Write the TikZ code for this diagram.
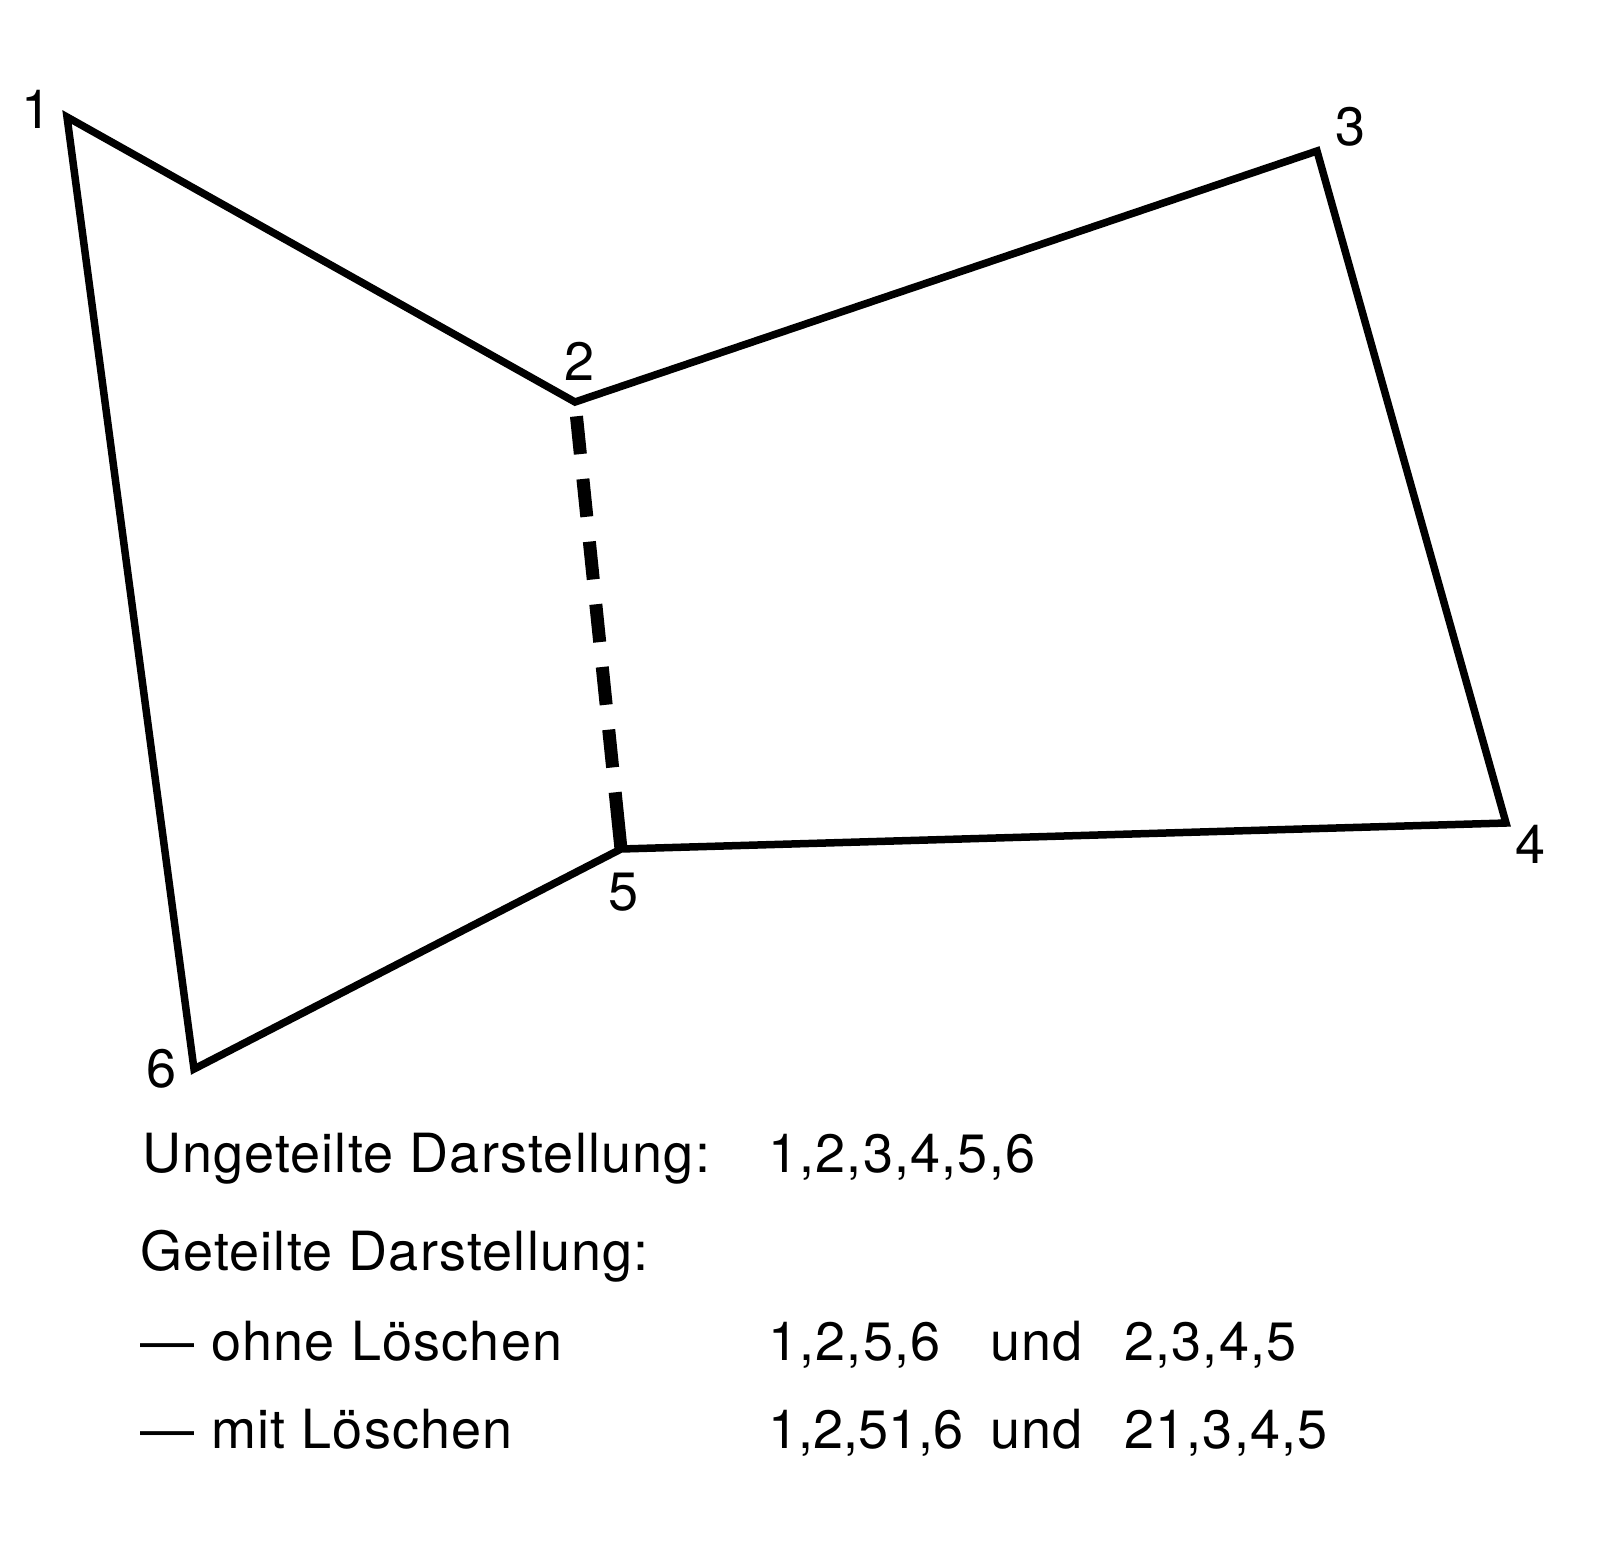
\documentclass[tikz,border=0pt]{standalone}
\usepackage{fontspec}
\setmainfont{TeX Gyre Heros}
\newfontfamily\spacedfont[LetterSpace=2.2]{TeX Gyre Heros}
\begin{document}
\begin{tikzpicture}[x=1pt,y=-1pt,
  edge/.style={line width=7.5pt,line join=miter},
  split/.style={line width=13pt,dash pattern=on 57pt off 25pt on 38pt off 25pt on 38pt off 25pt on 38pt off 25pt on 38pt off 25pt on 38pt off 25pt on 38pt off 60pt},
  lab/.style={inner sep=0pt,anchor=base,font=\fontsize{54}{60}\selectfont},
  txt/.style={inner sep=0pt,anchor=base west,font=\spacedfont\fontsize{54}{60}\selectfont},
  tighttxt/.style={inner sep=0pt,anchor=base west,font=\fontsize{54}{60}\selectfont}]
\useasboundingbox (0,0) rectangle (1619,1553);
\coordinate (p1) at (67,117);
\coordinate (p2) at (575,402);
\coordinate (p3) at (1317,151);
\coordinate (p4) at (1506,823);
\coordinate (p5) at (621,849);
\coordinate (p6) at (194,1069);
\draw[edge] (p1) -- (p2) -- (p3) -- (p4) -- (p5) -- (p6) -- cycle;
\draw[split] (p5) -- (p2);
\node[lab] (l1) at (37,128) {1};
\node[lab] (l2) at (580,380) {2};
\node[lab] (l3) at (1350,145) {3};
\node[lab] (l4) at (1530,863) {4};
\node[lab] (l5) at (624,910) {5};
\node[lab] (l6) at (162,1087) {6};
\node[txt] (t1) at (142,1172) {Ungeteilte Darstellung:};
\node[txt] (t1b) at (768,1172) {1,2,3,4,5,6};
\node[txt] (t2) at (140,1270) {Geteilte Darstellung:};
\node[txt] (d3) at (140,1360) {—};
\node[txt] (t3) at (211,1360) {ohne Löschen};
\node[txt] (t3a) at (768,1360) {1,2,5,6};
\node[txt] (t3b) at (990,1360) {und};
\node[txt] (t3c) at (1124,1360) {2,3,4,5};
\node[txt] (d4) at (140,1448) {—};
\node[txt] (t4) at (211,1448) {mit Löschen};
\node[tighttxt] (t4a) at (768,1448) {1,2,51,6};
\node[txt] (t4b) at (990,1448) {und};
\node[txt] (t4c) at (1124,1448) {21,3,4,5};
\end{tikzpicture}
\end{document}
